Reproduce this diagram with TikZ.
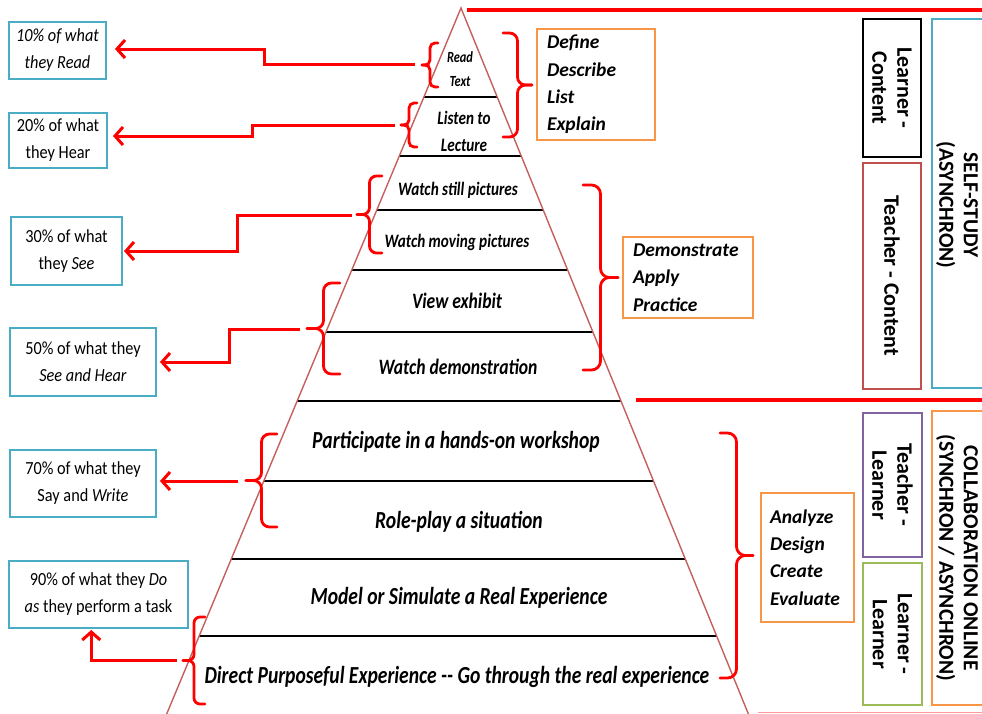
\documentclass[tikz,border=0pt]{standalone}
\usepackage{fontspec}
\setmainfont{Carlito}
\newfontfamily\condfont{Carlito}[FakeStretch=0.88]
\newfontfamily\pyrfont{Carlito}[FakeStretch=0.8]
\usetikzlibrary{arrows.meta,calc}
\definecolor{pctblue}{RGB}{75,172,198}
\definecolor{boxorange}{RGB}{247,150,70}
\definecolor{tcred}{RGB}{192,80,77}
\definecolor{tlpurple}{RGB}{128,100,162}
\definecolor{llgreen}{RGB}{155,187,89}
\definecolor{pyredge}{RGB}{196,96,92}
% red bracket: #1 x of arm ends, #2 top y, #3 bottom y, #4 x of tip, #5 corner radius
\newcommand\redbrk[5]{%
  \draw[rbr, rounded corners=#5] (#1,#2) -- ({(#1+#4)/2},#2) -- ({(#1+#4)/2},{(#2+#3)/2}) -- (#4,{(#2+#3)/2});
  \draw[rbr, rounded corners=#5] (#1,#3) -- ({(#1+#4)/2},#3) -- ({(#1+#4)/2},{(#2+#3)/2}) -- (#4,{(#2+#3)/2});}
\begin{document}
\begin{tikzpicture}[x=1pt,y=-1pt,
  pct/.style={draw=pctblue, line width=2pt, align=center, inner sep=0pt,
    font=\condfont\fontsize{18.5}{27}\selectfont},
  obox/.style={draw=boxorange, line width=2pt, align=left, inner sep=0pt,
    font=\bfseries\itshape\fontsize{19.5}{27.3}\selectfont},
  rbox/.style={line width=2pt, align=center, inner sep=0pt, rotate=-90,
    font=\bfseries\fontsize{22}{25}\selectfont},
  rtext/.style={align=center, inner sep=0pt, rotate=-90,
    font=\bfseries\fontsize{21.5}{24.5}\selectfont},
  ptext/.style={align=center, inner sep=0pt},
  lvl/.style={line width=2.6pt, black},
  pyr/.style={line width=1.4pt, pyredge},
  redline/.style={line width=3.5pt, red},
  rbr/.style={line width=2.8pt, red, line cap=round},
  rarrow/.style={line width=3pt, red, -{Straight Barb[length=8pt,width=18pt]}}
]
\useasboundingbox (0,0) rectangle (982,713);

% separators
\coordinate (tl1) at (467,10);
\coordinate (tl2) at (990,10);
\coordinate (ml1) at (636,400);
\coordinate (ml2) at (990,400);
\draw[redline] (tl1) -- (tl2);
\draw[redline] (ml1) -- (ml2);
\draw[line width=1pt, red!40] (758,712.5) -- (990,712.5);

% pyramid
\coordinate (apex) at (461,8);
\coordinate (bl) at (165,718);
\coordinate (br) at (750,718);
\draw[lvl] (423.9,97) -- (497.2,97);
\draw[lvl] (399.3,156) -- (521.2,156);
\draw[lvl] (376.8,210) -- (543.2,210);
\draw[lvl] (351.7,270) -- (567.6,270);
\draw[lvl] (325.9,332) -- (592.9,332);
\draw[lvl] (297.1,401) -- (621.0,401);
\draw[lvl] (263.8,481) -- (653.5,481);
\draw[lvl] (231.2,559) -- (685.3,559);
\draw[lvl] (199.1,636) -- (716.6,636);
\draw[pyr] (bl) -- (apex) -- (br);

% pyramid labels
\node[ptext, font=\pyrfont\bfseries\itshape\fontsize{15.5}{24}\selectfont] (t1) at (460,69) {Read\\Text};
\node[ptext, font=\pyrfont\bfseries\itshape\fontsize{19}{27}\selectfont] (t2) at (464,131.5) {Listen to\\Lecture};
\node[ptext, font=\pyrfont\bfseries\itshape\fontsize{19}{20}\selectfont] (t3) at (458,190) {Watch still pictures};
\node[ptext, font=\pyrfont\bfseries\itshape\fontsize{19}{20}\selectfont] (t4) at (457,242) {Watch moving pictures};
\node[ptext, font=\pyrfont\bfseries\itshape\fontsize{22}{24}\selectfont] (t5) at (457,301) {View exhibit};
\node[ptext, font=\pyrfont\bfseries\itshape\fontsize{22}{24}\selectfont] (t6) at (458,367) {Watch demonstration};
\node[ptext, font=\pyrfont\bfseries\itshape\fontsize{24.5}{26}\selectfont] (t7) at (456,442) {Participate in a hands-on workshop};
\node[ptext, font=\pyrfont\bfseries\itshape\fontsize{24.5}{26}\selectfont] (t8) at (459,522) {Role-play a situation};
\node[ptext, font=\pyrfont\bfseries\itshape\fontsize{24.5}{26}\selectfont] (t9) at (459,598) {Model or Simulate a Real Experience};
\node[ptext, font=\pyrfont\bfseries\itshape\fontsize{24.5}{26}\selectfont] (t10) at (457,677) {Direct Purposeful Experience -{}- Go through the real experience};

% percentage boxes
\node[pct, minimum width=97, minimum height=57] (n10) at (57.5,50.5) {\itshape 10\% of what\\\itshape they Read};
\node[pct, minimum width=98, minimum height=55] (n20) at (58,140.5) {20\% of what\\they Hear};
\node[pct, minimum width=111, minimum height=68] (n30) at (66.5,251) {30\% of what\\they \textit{See}};
\node[pct, minimum width=146, minimum height=68] (n50) at (83,362) {50\% of what they\\\textit{See and Hear}};
\node[pct, minimum width=146, minimum height=67] (n70) at (83,483.5) {70\% of what they\\Say and \textit{Write}};
\node[pct, minimum width=179, minimum height=67] (n90) at (98.5,594.5) {90\% of what they \textit{Do}\\\textit{as} they perform a task};

% left brackets
\redbrk{438}{43}{87}{422}{5pt}
\redbrk{417}{103}{147}{401}{5pt}
\redbrk{382}{176}{253}{357}{7pt}
\redbrk{340}{283}{374}{307}{8pt}
\redbrk{277}{434}{527}{246}{8pt}
\redbrk{205}{617}{704}{183}{6pt}

% right brackets
\redbrk{503}{33}{137}{532}{8pt}
\redbrk{583}{185}{370}{618}{9pt}
\redbrk{720}{433}{678}{753}{9pt}

% arrows
\coordinate (a10) at (415,64);
\coordinate (a20) at (395,125);
\coordinate (a30) at (352,215);
\coordinate (a50) at (300,329);
\coordinate (a70) at (238,481);
\coordinate (a90) at (177,660);
\draw[rarrow, shorten >=8pt] (a10) -- ++(-151,0) |- ($(n10.east)+(0,-1.5)$);
\draw[rarrow, shorten >=5pt] (a20) -- ++(-143,0) |- ($(n20.east)+(0,-4.5)$);
\draw[rarrow, shorten >=1pt] (a30) -- ++(-115,0) |- (n30.east);
\draw[rarrow, shorten >=3pt] (a50) -- ++(-71,0) |- (n50.east);
\draw[rarrow, shorten >=3pt] (a70) -- (a70 -| n70.east);
\draw[rarrow, shorten >=1pt] (a90) -| ($(n90.south west)!0.46!(n90.south east)$);

% orange verb boxes
\node[obox, minimum width=118, minimum height=111, text width=98] (v1) at (596,84.5) {Define\\Describe\\List\\Explain};
\node[obox, minimum width=130, minimum height=81, text width=110] (v2) at (688,277.5) {Demonstrate\\Apply\\Practice};
\node[obox, minimum width=93, minimum height=129, text width=75] (v3) at (807.5,557.5) {Analyze\\Design\\Create\\Evaluate};

% right boxes
\node[rbox, draw=black, minimum width=138, minimum height=58] (lc) at (892,88) {Learner -\\Content};
\node[rbox, draw=tcred, minimum width=226, minimum height=58] (tc) at (892,276) {Teacher - Content};
\node[rbox, draw=tlpurple, minimum width=144, minimum height=59] (tlr) at (892.5,485) {Teacher -\\Learner};
\node[rbox, draw=llgreen, minimum width=142, minimum height=59] (llr) at (892.5,634) {Learner -\\Learner};
\draw[line width=2pt, pctblue] (1000,19) -- (932,19) -- (932,388) -- (1000,388);
\draw[line width=2pt, boxorange] (1000,411) -- (932,411) -- (932,705) -- (1000,705);
\node[rtext] (ss) at (957,205) {SELF-STUDY\\(ASYNCHRON)};
\node[rtext] (co) at (957,558) {COLLABORATION ONLINE\\(SYNCHRON / ASYNCHRON)};
\end{tikzpicture}
\end{document}
